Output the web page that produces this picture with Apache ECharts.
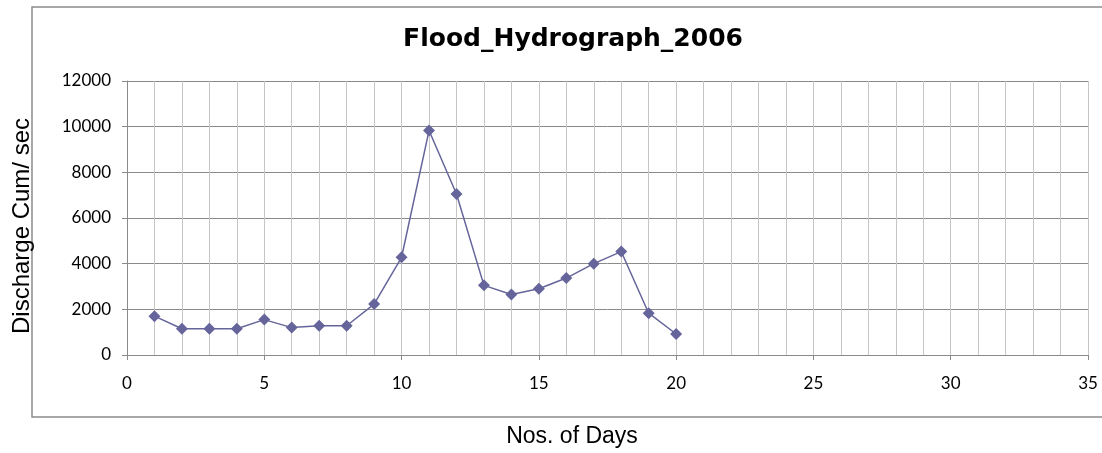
<!DOCTYPE html>
<html>
<head>
<meta charset="utf-8">
<script src="https://cdn.jsdelivr.net/npm/echarts@6/dist/echarts.min.js"></script>
<style>html,body{margin:0;padding:0;background:#fff;}#c{width:1102px;height:453px;}</style>
</head>
<body>
<div id="c"></div>
<script>
var days = [1,2,3,4,5,6,7,8,9,10,11,12,13,14,15,16,17,18,19,20];
var discharge = [1700,1150,1150,1150,1550,1200,1280,1280,2230,4280,9830,7050,3050,2650,2900,3370,4000,4530,1830,920];
var titleText = 'Flood_Hydrograph_2006';
var xName = 'Nos. of Days';
var yName = 'Discharge Cum/ sec';

var chart = echarts.init(document.getElementById('c'));
chart.setOption({
  animation: false,
  backgroundColor: '#fff',
  title: {
    text: titleText, left: 568, top: 22, textAlign: 'center',
    textStyle: {fontFamily: 'DejaVu Sans', fontWeight: 'bold', fontSize: 25, color: '#000'}
  },
  graphic: [
    {type: 'rect', shape: {x: 32, y: 7, width: 1090, height: 410}, style: {fill: 'none', stroke: '#8a8a8a', lineWidth: 1.5}, silent: true},
    {type: 'text', x: 572, y: 437, style: {text: xName, font: '23px "Liberation Sans"', fill: '#000', textAlign: 'center', textVerticalAlign: 'middle'}},
    {type: 'text', x: 22, y: 226, rotation: Math.PI / 2, style: {text: yName, font: '24px "Liberation Sans"', fill: '#000', textAlign: 'center', textVerticalAlign: 'middle'}}
  ],
  grid: {left: 127, right: 14, top: 81, bottom: 98, containLabel: false},
  xAxis: {
    type: 'value', min: 0, max: 35, interval: 5,
    axisLine: {show: true, onZero: false, lineStyle: {color: '#8a8a8a', width: 1}},
    axisTick: {show: true, length: 5, lineStyle: {color: '#8a8a8a'}},
    minorTick: {show: false, splitNumber: 5},
    splitLine: {show: true, lineStyle: {color: '#c6c6c6', width: 1}},
    minorSplitLine: {show: true, lineStyle: {color: '#c6c6c6', width: 1}},
    axisLabel: {color: '#000', fontSize: 17, fontFamily: 'Lato', margin: 20}
  },
  yAxis: {
    type: 'value', min: 0, max: 12000, interval: 2000,
    axisLine: {show: true, lineStyle: {color: '#8a8a8a', width: 1}},
    axisTick: {show: true, length: 5, lineStyle: {color: '#8a8a8a'}},
    splitLine: {show: true, lineStyle: {color: '#8a8a8a', width: 1}},
    axisLabel: {color: '#000', fontSize: 17, fontFamily: 'Lato', margin: 16, formatter: function (v) { return String(v); }}
  },
  series: [{
    type: 'line',
    data: days.map(function (d, i) { return [d, discharge[i]]; }),
    symbol: 'diamond', symbolSize: 12,
    itemStyle: {color: '#65659b'},
    lineStyle: {color: '#65659b', width: 1.5}
  }]
});
</script>
</body>
</html>
